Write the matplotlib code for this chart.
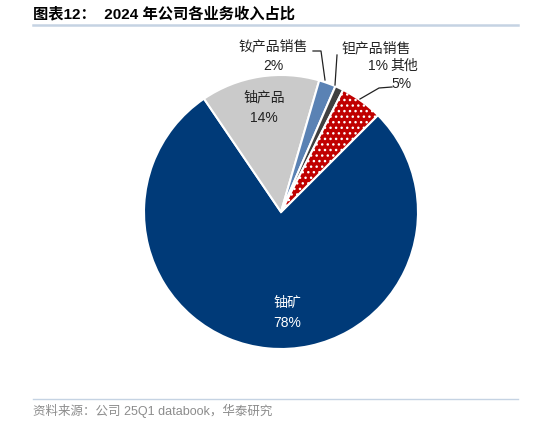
import matplotlib.pyplot as plt

plt.rcParams['font.family'] = ['Liberation Sans', 'Noto Sans CJK SC']

# 2024 revenue share by business
labels = ['铀矿', '铀产品', '钕产品销售', '钽产品销售', '其他']
shares = [78, 14, 2, 1, 5]
colors = ['#003A78', '#CACACA', '#5A82B4', '#404040', '#C00000']

W, H = 534, 424
cx, cy, r = 281, 212, 137

fig = plt.figure(figsize=(W / 100, H / 100), dpi=100)


def px(x, y):
    # pixel position -> pie data coords
    return (x - cx) / r, (cy - y) / r


half = 170
ax = fig.add_axes([(cx - half) / W, (H - cy - half) / H, 2 * half / W, 2 * half / H])
wedges, _ = ax.pie(shares, colors=colors, startangle=45, counterclock=False,
                   radius=1, wedgeprops=dict(edgecolor='white', linewidth=1.5))
wedges[4].set_hatch('...')
ax.set_xlim(-half / r, half / r)
ax.set_ylim(-half / r, half / r)
ax.set_aspect('equal')
ax.axis('off')

fs = 10
ax.text(*px(287, 313), f'{labels[0]}\n{shares[0]}%', color='white', fontsize=fs,
        ha='center', va='center', linespacing=1.6)
ax.text(*px(264, 108), f'{labels[1]}\n{shares[1]}%', color='#222222', fontsize=fs,
        ha='center', va='center', linespacing=1.6)
ax.text(*px(273, 56), f'{labels[2]}\n{shares[2]}%', color='#222222', fontsize=fs,
        ha='center', va='center', linespacing=1.5)
ax.text(*px(376, 48), labels[3], color='#222222', fontsize=fs, ha='center', va='center')
ax.text(*px(378, 66), f'{shares[3]}%', color='#222222', fontsize=fs, ha='center', va='center')
ax.text(*px(404, 66), labels[4], color='#222222', fontsize=fs, ha='center', va='center')
ax.text(*px(402, 84), f'{shares[4]}%', color='#222222', fontsize=fs, ha='center', va='center')

# leader lines
for pts in ([(313, 51), (321, 51), (325, 80)],
            [(337, 55), (335, 85)],
            [(392, 87), (379, 88), (360, 99)]):
    xs, ys = zip(*[px(*p) for p in pts])
    ax.plot(xs, ys, color='#222222', linewidth=0.9)

# title, rules and source
fig.text(33 / W, 1 - 14 / H, '图表12：  2024 年公司各业务收入占比', fontsize=11,
         fontweight='bold', ha='left', va='center')
fig.add_artist(plt.Line2D([33 / W, 518 / W], [1 - 25 / H, 1 - 25 / H],
                          color='#C5D3E3', linewidth=1.8))
fig.add_artist(plt.Line2D([33 / W, 518 / W], [1 - 399 / H, 1 - 399 / H],
                          color='#C5D3E3', linewidth=1.0))
fig.text(33 / W, 1 - 411 / H, '资料来源：公司 25Q1 databook，华泰研究', fontsize=9,
         color='#8C8C8C', ha='left', va='center')

fig.savefig('out.png', dpi=100)
